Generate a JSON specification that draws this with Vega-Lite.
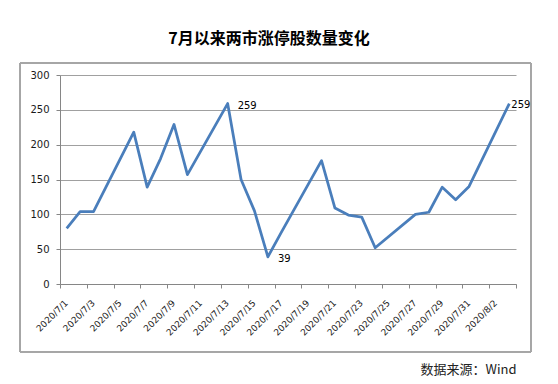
{
  "$schema": "https://vega.github.io/schema/vega-lite/v6.json",
  "autosize": {"type": "none"},
  "padding": {"left": 60, "top": 75, "right": 42, "bottom": 100},
  "width": 456,
  "height": 209,
  "background": "white",
  "config": {"view": {"stroke": null}},
  "title": {
    "text": "7月以来两市涨停股数量变化",
    "font": "Noto Sans CJK SC",
    "fontSize": 16,
    "fontWeight": "bold",
    "color": "#000000",
    "anchor": "middle",
    "frame": "group",
    "dx": -19,
    "offset": 16
  },
  "data": {
    "values": [
      {"date": "2020/07/01 12:00", "v": 80},
      {"date": "2020/07/02 12:00", "v": 104},
      {"date": "2020/07/03 12:00", "v": 104},
      {"date": "2020/07/06 12:00", "v": 218},
      {"date": "2020/07/07 12:00", "v": 139},
      {"date": "2020/07/08 12:00", "v": 180},
      {"date": "2020/07/09 12:00", "v": 229},
      {"date": "2020/07/10 12:00", "v": 157},
      {"date": "2020/07/13 12:00", "v": 259},
      {"date": "2020/07/14 12:00", "v": 150},
      {"date": "2020/07/15 12:00", "v": 105},
      {"date": "2020/07/16 12:00", "v": 39},
      {"date": "2020/07/17 12:00", "v": 74},
      {"date": "2020/07/20 12:00", "v": 177},
      {"date": "2020/07/21 12:00", "v": 109},
      {"date": "2020/07/22 12:00", "v": 99},
      {"date": "2020/07/23 12:00", "v": 96},
      {"date": "2020/07/24 12:00", "v": 52},
      {"date": "2020/07/27 12:00", "v": 100},
      {"date": "2020/07/28 12:00", "v": 103},
      {"date": "2020/07/29 12:00", "v": 139},
      {"date": "2020/07/30 12:00", "v": 121},
      {"date": "2020/07/31 12:00", "v": 140},
      {"date": "2020/08/03 12:00", "v": 259}
    ]
  },
  "encoding": {
    "x": {
      "field": "date",
      "type": "temporal",
      "scale": {
        "domain": [
          {"year": 2020, "month": 7, "date": 1},
          {"year": 2020, "month": 8, "date": 4}
        ]
      },
      "axis": {
        "title": "数据来源：Wind",
        "titleFont": "Noto Sans CJK SC",
        "titleFontSize": 13,
        "titleFontWeight": "normal",
        "titleColor": "#222222",
        "titleX": 456,
        "titleY": 85,
        "titleAlign": "right",
        "titleBaseline": "middle",
        "titleAngle": 0,
        "grid": false,
        "domainColor": "#868686",
        "tickColor": "#868686",
        "tickSize": 4,
        "labelAngle": 315,
        "labelAlign": "right",
        "labelBaseline": "middle",
        "labelPadding": 13,
        "labelOffset": 6,
        "labelFlush": false,
        "labelOverlap": false,
        "labelBound": false,
        "labelFont": "DejaVu Sans",
        "labelFontSize": 9,
        "labelColor": "#1a1a1a",
        "values": [
          {"year": 2020, "month": 7, "date": 1},
          {"year": 2020, "month": 7, "date": 3},
          {"year": 2020, "month": 7, "date": 5},
          {"year": 2020, "month": 7, "date": 7},
          {"year": 2020, "month": 7, "date": 9},
          {"year": 2020, "month": 7, "date": 11},
          {"year": 2020, "month": 7, "date": 13},
          {"year": 2020, "month": 7, "date": 15},
          {"year": 2020, "month": 7, "date": 17},
          {"year": 2020, "month": 7, "date": 19},
          {"year": 2020, "month": 7, "date": 21},
          {"year": 2020, "month": 7, "date": 23},
          {"year": 2020, "month": 7, "date": 25},
          {"year": 2020, "month": 7, "date": 27},
          {"year": 2020, "month": 7, "date": 29},
          {"year": 2020, "month": 7, "date": 31},
          {"year": 2020, "month": 8, "date": 2},
          {"year": 2020, "month": 8, "date": 4}
        ],
        "labelExpr": "(month(datum.value) == 7 && date(datum.value) == 4) ? '' : timeFormat(datum.value, '%Y/%-m/%-d')"
      }
    },
    "y": {
      "field": "v",
      "type": "quantitative",
      "scale": {"domain": [0, 300], "nice": false, "zero": false},
      "axis": {
        "title": null,
        "values": [0, 50, 100, 150, 200, 250, 300],
        "grid": true,
        "gridColor": "#A0A0A0",
        "gridWidth": 1,
        "domainColor": "#868686",
        "tickColor": "#868686",
        "tickSize": 4,
        "labelPadding": 7,
        "labelFont": "DejaVu Sans",
        "labelFontSize": 10,
        "labelColor": "#1a1a1a"
      }
    }
  },
  "layer": [
    {
      "mark": {"type": "rect", "filled": false, "stroke": "#A6A6A6", "strokeWidth": 1, "clip": false},
      "encoding": {
        "x": {"datum": {"year": 2020, "month": 6, "date": 28, "hours": 0, "minutes": 26}, "type": "temporal"},
        "x2": {"datum": {"year": 2020, "month": 8, "date": 5, "hours": 2, "minutes": 50}},
        "y": {"datum": 317.2, "type": "quantitative"},
        "y2": {"datum": -97.6}
      }
    },
    {
      "mark": {"type": "line", "color": "#4A7EBB", "strokeWidth": 2.75, "strokeJoin": "round"}
    },
    {
      "transform": [{"filter": "datum.v == 39 || (datum.v == 259 && month(datum.date) == 6)"}],
      "mark": {"type": "text", "align": "left", "baseline": "middle", "dx": 10, "dy": 2, "font": "DejaVu Sans", "fontSize": 10, "color": "#000000"},
      "encoding": {"text": {"field": "v", "type": "quantitative"}}
    },
    {
      "transform": [{"filter": "datum.v == 259 && month(datum.date) == 7"}],
      "mark": {"type": "text", "align": "left", "baseline": "middle", "dx": 2, "dy": 1, "font": "DejaVu Sans", "fontSize": 10, "color": "#000000"},
      "encoding": {"text": {"field": "v", "type": "quantitative"}}
    }
  ]
}
